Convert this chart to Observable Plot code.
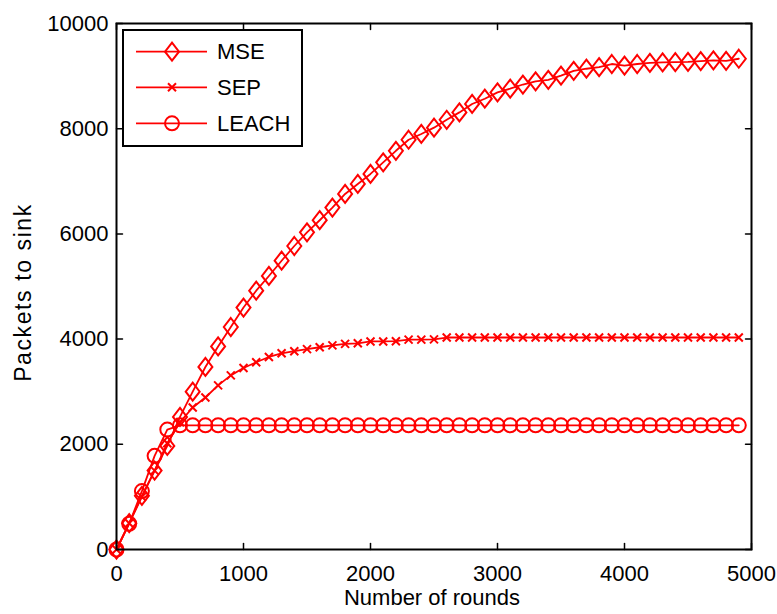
<!DOCTYPE html>
<html>
<head>
<meta charset="utf-8">
<script src="https://cdn.jsdelivr.net/npm/d3@7"></script>
<script src="https://cdn.jsdelivr.net/npm/@observablehq/plot@0.6"></script>
<style>
  html, body { margin: 0; padding: 0; background: #fff; }
  #wrap { position: relative; width: 777px; height: 614px; font-family: Arial, "Liberation Sans", sans-serif; }
  #legend { position: absolute; left: 122px; top: 29px; width: 181px; height: 118px; box-sizing: border-box;
            border: 2px solid #000; background: #fff; }
  #legend svg { position: absolute; left: -2px; top: -2px; }
</style>
</head>
<body>
<div id="wrap"></div>
<script>
// ---- data ----
const rounds = [0,100,200,300,400,500,600,700,800,900,1000,1100,1200,1300,1400,1500,1600,1700,1800,1900,
  2000,2100,2200,2300,2400,2500,2600,2700,2800,2900,3000,3100,3200,3300,3400,3500,3600,3700,3800,3900,
  4000,4100,4200,4300,4400,4500,4600,4700,4800,4900];
const mse = [0,500,1020,1500,1970,2520,3000,3470,3860,4230,4600,4920,5200,5490,5770,6030,6260,6500,6760,6950,
  7140,7360,7580,7790,7900,8020,8170,8310,8470,8570,8690,8760,8840,8900,8930,9010,9100,9140,9170,9230,
  9200,9230,9250,9260,9265,9270,9285,9300,9290,9330];
const sep = [0,500,1000,1500,2020,2420,2700,2890,3120,3310,3450,3560,3660,3730,3770,3810,3845,3880,3910,3920,
  3955,3955,3960,3990,3990,3995,4030,4030,4030,4030,4030,4030,4030,4030,4030,4030,4030,4030,4030,4030,
  4030,4030,4030,4030,4030,4030,4030,4030,4030,4030];
const leach = [0,490,1110,1780,2280,2360,2360,2360,2360,2360,2360,2360,2360,2360,2360,2360,2360,2360,2360,2360,
  2360,2360,2360,2360,2360,2360,2360,2360,2360,2360,2360,2360,2360,2360,2360,2360,2360,2360,2360,2360,
  2360,2360,2360,2360,2360,2360,2360,2360,2360,2360];
const seriesNames = ["MSE", "SEP", "LEACH"];
const xTicks = [0,1000,2000,3000,4000,5000];
const yTicks = [0,2000,4000,6000,8000,10000];
const xLabel = "Number of rounds";
const yLabel = "Packets to sink";

const RED = "#ff0000";
const diamondSym = { draw(ctx) { ctx.moveTo(0,-9); ctx.lineTo(7,0); ctx.lineTo(0,9); ctx.lineTo(-7,0); ctx.closePath(); } };
const timesSym = { draw(ctx) { ctx.moveTo(-4,-4); ctx.lineTo(4,4); ctx.moveTo(4,-4); ctx.lineTo(-4,4); } };
const circleSym = { draw(ctx) { ctx.moveTo(7,0); ctx.arc(0,0,7,0,2*Math.PI); } };
const tickShape = { draw(ctx, l) { ctx.moveTo(0,0); ctx.lineTo(0,-l); } };

const mk = (vals) => rounds.map((r,i) => ({x: r, y: vals[i]}));
const dMSE = mk(mse), dSEP = mk(sep), dLEACH = mk(leach);

const chart = Plot.plot({
  width: 777, height: 614,
  marginLeft: 116, marginRight: 26, marginTop: 23, marginBottom: 65,
  x: {domain: [0, 5000]},
  y: {domain: [0, 10000]},
  style: {fontFamily: "Arial, 'Liberation Sans', sans-serif", fontSize: "22px", background: "white", color: "black"},
  marks: [
    Plot.axisX({ticks: xTicks, tickSize: 0, tickPadding: 16, tickFormat: d => String(d), label: null, fontSize: 22}),
    Plot.axisY({ticks: yTicks, tickSize: 0, tickPadding: 8, tickFormat: d => String(d), label: null, fontSize: 22}),
    Plot.vector(xTicks, {x: d => d, y: 0, length: 6, rotate: 0, anchor: "start", shape: tickShape, stroke: "black", strokeWidth: 1.5}),
    Plot.vector(xTicks, {x: d => d, y: 10000, length: 6, rotate: 180, anchor: "start", shape: tickShape, stroke: "black", strokeWidth: 1.5}),
    Plot.vector(yTicks, {x: 0, y: d => d, length: 6, rotate: 90, anchor: "start", shape: tickShape, stroke: "black", strokeWidth: 1.5}),
    Plot.vector(yTicks, {x: 5000, y: d => d, length: 6, rotate: -90, anchor: "start", shape: tickShape, stroke: "black", strokeWidth: 1.5}),
    Plot.line(dMSE, {x: "x", y: "y", stroke: RED, strokeWidth: 1.8}),
    Plot.line(dSEP, {x: "x", y: "y", stroke: RED, strokeWidth: 1.8}),
    Plot.line(dLEACH, {x: "x", y: "y", stroke: RED, strokeWidth: 1.8}),
    Plot.dot(dMSE, {x: "x", y: "y", symbol: diamondSym, r: 7, stroke: RED, fill: "none", strokeWidth: 2}),
    Plot.dot(dSEP, {x: "x", y: "y", symbol: timesSym, r: 4, stroke: RED, fill: "none", strokeWidth: 2}),
    Plot.dot(dLEACH, {x: "x", y: "y", symbol: circleSym, r: 7, stroke: RED, fill: "none", strokeWidth: 2}),
    Plot.frame({stroke: "black", strokeWidth: 2}),
    Plot.text([xLabel], {frameAnchor: "bottom", dx: -2, dy: 55, fontSize: 22, fill: "black"}),
    Plot.text([yLabel], {frameAnchor: "left", textAnchor: "middle", dx: -93, dy: 6, rotate: -90, fontSize: 23, fill: "black", className: "ylab"})
  ]
});

d3.select(chart).selectAll(".ylab text").style("letter-spacing", "1.6px");

const wrap = document.getElementById("wrap");
wrap.appendChild(chart);

// ---- legend (HTML overlay) ----
const legend = document.createElement("div");
legend.id = "legend";
const rowsY = [22.7, 58.3, 94.3];
const ns = "http://www.w3.org/2000/svg";
const svg = document.createElementNS(ns, "svg");
svg.setAttribute("width", 181); svg.setAttribute("height", 118);
const markerPaths = [
  "M0,-9L7,0L0,9L-7,0Z",
  "M-4,-4L4,4M4,-4L-4,4",
  "M7,0A7,7 0 1,1 -7,0A7,7 0 1,1 7,0Z"
];
seriesNames.forEach((name, i) => {
  const y = rowsY[i];
  const line = document.createElementNS(ns, "line");
  line.setAttribute("x1", 14); line.setAttribute("x2", 85);
  line.setAttribute("y1", y); line.setAttribute("y2", y);
  line.setAttribute("stroke", RED); line.setAttribute("stroke-width", 1.8);
  svg.appendChild(line);
  const p = document.createElementNS(ns, "path");
  p.setAttribute("d", markerPaths[i]);
  p.setAttribute("transform", `translate(50,${y})`);
  p.setAttribute("stroke", RED); p.setAttribute("fill", "none"); p.setAttribute("stroke-width", 2);
  svg.appendChild(p);
  const t = document.createElementNS(ns, "text");
  t.setAttribute("x", 95); t.setAttribute("y", y);
  t.setAttribute("dy", "0.35em");
  t.setAttribute("font-size", 22);
  t.setAttribute("font-family", "Arial, 'Liberation Sans', sans-serif");
  t.textContent = name;
  svg.appendChild(t);
});
legend.appendChild(svg);
wrap.appendChild(legend);
</script>
</body>
</html>
